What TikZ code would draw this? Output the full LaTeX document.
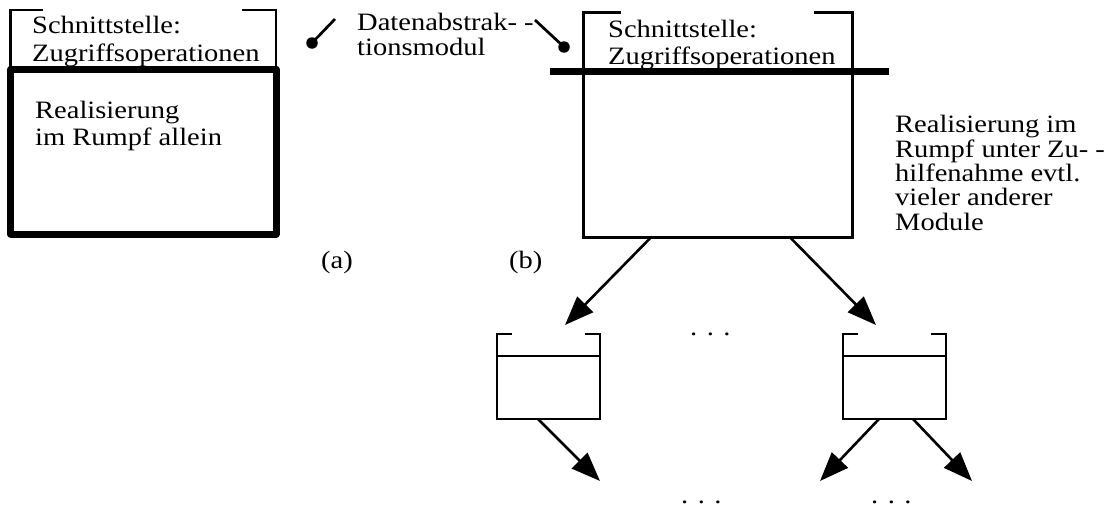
\documentclass[tikz,border=0pt]{standalone}
\usepackage{fontspec}
\setmainfont[FakeStretch=1.14]{Liberation Serif}
\usetikzlibrary{arrows.meta,calc}

\begin{document}
\begin{tikzpicture}[x=1pt,y=-1pt,
  modline/.style={line width=2.6pt},
  modbox/.style={draw, line width=2.6pt, rectangle, inner sep=0pt, outer sep=0pt},
  bodythick/.style={draw, line width=7pt, line join=round, rectangle, inner sep=0pt, outer sep=0pt},
  ifline/.style={line width=7pt},
  arr/.style={line width=2.6pt, -{Triangle[length=29pt,width=22pt]}},
  ptr/.style={line width=2.7pt},
  pdot/.style={circle, fill, minimum size=11.5pt, inner sep=0pt},
  txt/.style={font=\fontsize{25}{28}\selectfont, inner sep=0pt, anchor=base west, align=left},
]
\useasboundingbox (0,0) rectangle (1107,506);

% (a) module realised in its own body
\node[bodythick, minimum width=265.3pt, minimum height=165pt] (ma) at (143.35,151.5) {};
\draw[modline] (ma.north west) -- ++(0,-59) -- ++(32.3,0);
\draw[modline] (ma.north east) -- ++(0,-59) -- ++(-34,0);
\node[txt] (ia) at (32,61) {Schnittstelle:\\Zugriffsoperationen};
\node[txt, font=\fontsize{25}{27}\selectfont] (ra) at (35,145) {Realisierung\\im Rumpf allein};
\node[txt] (la) at (321,268) {(a)};

% label with its two pointers
\node[txt, font=\fontsize{25}{25}\selectfont] (lab) at (357,55) {Datenabstrak- -\\tionsmodul};
\node[pdot] (d1) at (312,43) {};
\node[pdot] (d2) at (564,47) {};
\coordinate (p1) at (335,19);
\coordinate (p2) at (535,20);
\draw[ptr] (p1) -- (d1.center);
\draw[ptr] (p2) -- (d2.center);

% (b) module using other modules
\node[modbox, minimum width=269pt, minimum height=166.3pt] (mb) at (717.8,154.15) {};
\draw[modline] (mb.north west) -- ++(0,-58.3) -- ++(37.7,0);
\draw[modline] (mb.north east) -- ++(0,-58.3) -- ++(-38.3,0);
\draw[ifline] ([xshift=-33.3pt]mb.north west) -- ([xshift=36.7pt]mb.north east);
\node[txt, font=\fontsize{25}{27}\selectfont] (ib) at (608,64) {Schnittstelle:\\Zugriffsoperationen};
\node[txt] (lb) at (509,268) {(b)};
\node[txt, font=\fontsize{25}{24.3}\selectfont] (rb) at (895,230)
  {Realisierung im\\Rumpf unter Zu- -\\hilfenahme evtl.\\vieler anderer\\Module};

% used modules
\node[modbox, minimum width=103pt, minimum height=63pt] (s1) at (548.5,387.5) {};
\draw[modline] (s1.north west) -- ++(0,-22) -- ++(15,0);
\draw[modline] (s1.north east) -- ++(0,-22) -- ++(-15,0);
\node[modbox, minimum width=103pt, minimum height=63pt] (s2) at (894.5,387.5) {};
\draw[modline] (s2.north west) -- ++(0,-22) -- ++(15,0);
\draw[modline] (s2.north east) -- ++(0,-22) -- ++(-15,0);

\node[txt] (e1) at (690,335) {. . .};
\node[txt] (e2) at (681,503) {. . .};
\node[txt] (e3) at (871,503) {. . .};

% uses-relations
\coordinate (t1) at (565,325);
\coordinate (t2) at (876,325);
\coordinate (t3) at (600,481);
\coordinate (t4) at (820,481);
\coordinate (t5) at (972,481);
\draw[arr] ([xshift=-66.8pt]mb.south) -- (t1);
\draw[arr] ([xshift=72.2pt]mb.south) -- (t2);
\draw[arr] ([xshift=-10.5pt]s1.south) -- (t3);
\draw[arr] ([xshift=-15.5pt]s2.south) -- (t4);
\draw[arr] ([xshift=18.5pt]s2.south) -- (t5);
\end{tikzpicture}
\end{document}
